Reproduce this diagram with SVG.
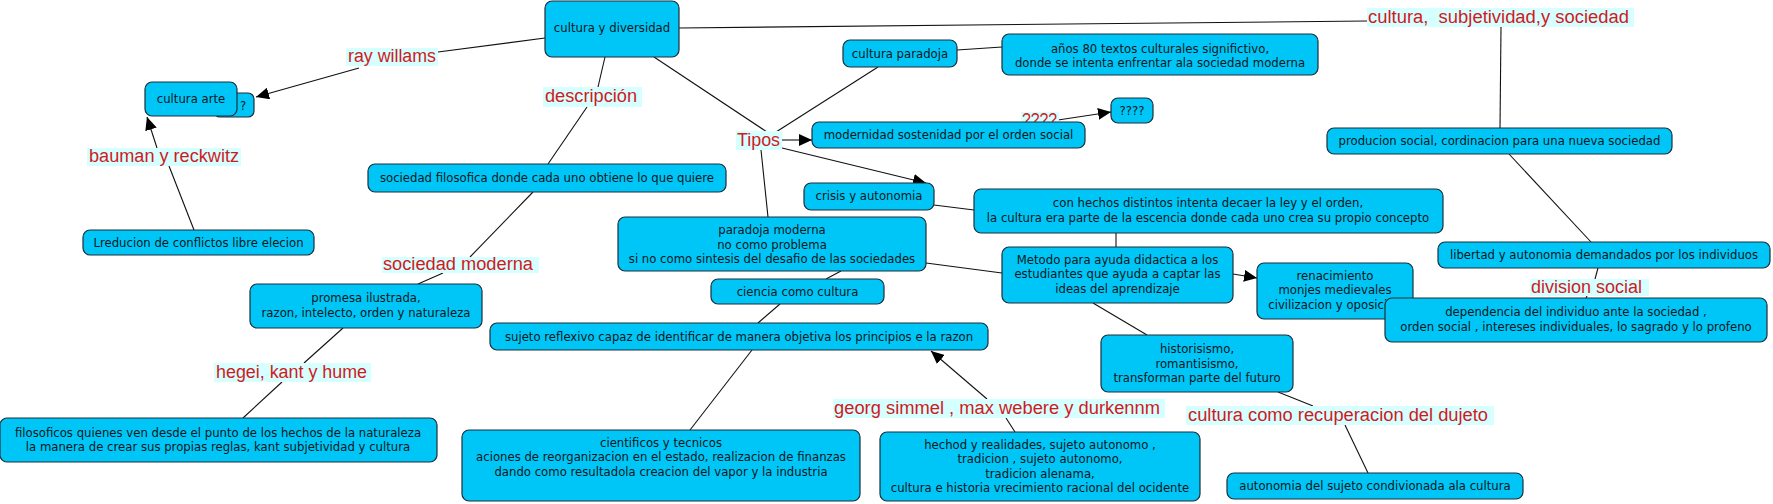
<svg xmlns="http://www.w3.org/2000/svg" width="1773" height="504" viewBox="0 0 1773 504">
<style>
.n rect{fill:#00c6f8;stroke:#1b2f3a;stroke-width:1.2}
.n text{font-family:"DejaVu Sans",Verdana,sans-serif;font-size:11.7px;fill:#0a1820;text-anchor:middle}
.l rect{fill:#d6ffff;stroke:none}
.l text{font-family:"Liberation Sans",Arial,sans-serif;font-size:18px;fill:#d01a1e}
#edges line{stroke:#111;stroke-width:1.1;fill:none}
#edges line.a{marker-end:url(#arr)}
</style>
<defs>
<marker id="arr" markerUnits="userSpaceOnUse" markerWidth="14" markerHeight="12" refX="13" refY="6" orient="auto">
<path d="M0,0 L13,6 L0,12 z" fill="#000"/>
</marker>
</defs>
<rect width="1773" height="504" fill="#fff"/>
<g id="edges">
<line x1="545" y1="38" x2="438" y2="52"/>
<line class="a" x1="359" y1="68" x2="256" y2="97"/>
<line x1="605" y1="57" x2="598" y2="87"/>
<line x1="587" y1="107" x2="548" y2="164"/>
<line x1="194" y1="230" x2="169" y2="166"/>
<line class="a" x1="157" y1="148" x2="147" y2="117"/>
<line x1="533" y1="192" x2="470" y2="257"/>
<line x1="443" y1="273" x2="418" y2="284"/>
<line x1="343" y1="328" x2="304" y2="363"/>
<line x1="282" y1="382" x2="243" y2="418"/>
<line x1="679" y1="28" x2="1367" y2="21"/>
<line x1="1501" y1="27" x2="1500" y2="128"/>
<line x1="1509" y1="154" x2="1591" y2="242"/>
<line x1="1598" y1="268" x2="1595" y2="279"/>
<line x1="1587" y1="296" x2="1586" y2="298"/>
<line x1="654" y1="57" x2="767" y2="132"/>
<line x1="776" y1="132" x2="878" y2="67"/>
<line x1="957" y1="50" x2="1002" y2="47"/>
<line class="a" x1="782" y1="140" x2="812" y2="140"/>
<line class="a" x1="1058" y1="120" x2="1111" y2="112"/>
<line class="a" x1="782" y1="148" x2="926" y2="183"/>
<line x1="761" y1="150" x2="768" y2="217"/>
<line x1="934" y1="205" x2="974" y2="210"/>
<line x1="926" y1="263" x2="1002" y2="273"/>
<line x1="1116" y1="233" x2="1116" y2="247"/>
<line class="a" x1="1233" y1="274" x2="1257" y2="278"/>
<line x1="1093" y1="303" x2="1147" y2="335"/>
<line x1="1278" y1="392" x2="1313" y2="406"/>
<line x1="1345" y1="425" x2="1368" y2="473"/>
<line x1="841" y1="271" x2="826" y2="279"/>
<line x1="780" y1="304" x2="758" y2="323"/>
<line x1="752" y1="350" x2="690" y2="430"/>
<line x1="1015" y1="432" x2="1006" y2="418"/>
<line class="a" x1="987" y1="399" x2="931" y2="351"/>
</g>
<g id="lbl-raywillams" class="l"><rect x="346" y="48" width="92" height="18"/><text x="348" y="62" textLength="88" lengthAdjust="spacingAndGlyphs">ray willams</text></g>
<g id="lbl-descripcion" class="l"><rect x="543" y="87" width="99" height="20"/><text x="545" y="102" textLength="92" lengthAdjust="spacingAndGlyphs">descripción</text></g>
<g id="lbl-bauman" class="l"><rect x="87" y="148" width="154" height="18"/><text x="89" y="162" textLength="150" lengthAdjust="spacingAndGlyphs">bauman y reckwitz</text></g>
<g id="lbl-tipos" class="l"><rect x="736" y="131" width="46" height="19"/><text x="737" y="146" textLength="43" lengthAdjust="spacingAndGlyphs">Tipos</text></g>
<g id="lbl-q" class="l"><rect x="1021" y="112" width="38" height="16"/><text x="1022" y="126" textLength="35" lengthAdjust="spacingAndGlyphs">????</text></g>
<g id="lbl-cultsubj" class="l"><rect x="1367" y="8" width="267" height="19"/><text x="1368" y="23" textLength="261" lengthAdjust="spacingAndGlyphs" xml:space="preserve">cultura,  subjetividad,y sociedad</text></g>
<g id="lbl-socmod" class="l"><rect x="382" y="257" width="157" height="16"/><text x="383" y="270" textLength="150" lengthAdjust="spacingAndGlyphs">sociedad moderna</text></g>
<g id="lbl-hegei" class="l"><rect x="214" y="363" width="157" height="19"/><text x="216" y="378" textLength="151" lengthAdjust="spacingAndGlyphs">hegei, kant y hume</text></g>
<g id="lbl-division" class="l"><rect x="1530" y="279" width="119" height="17"/><text x="1531" y="293" textLength="111" lengthAdjust="spacingAndGlyphs">division social</text></g>
<g id="lbl-georg" class="l"><rect x="833" y="399" width="332" height="19"/><text x="834" y="414" textLength="326" lengthAdjust="spacingAndGlyphs">georg simmel , max webere y durkennm</text></g>
<g id="lbl-cultcomo" class="l"><rect x="1186" y="406" width="308" height="19"/><text x="1188" y="421" textLength="300" lengthAdjust="spacingAndGlyphs">cultura como recuperacion del dujeto</text></g>
<g id="n-cyd" class="n"><rect x="545" y="1" width="134" height="56" rx="7"/><text x="612" y="32">cultura y diversidad</text></g>
<g id="n-q1" class="n"><rect x="214" y="93" width="40" height="24" rx="6"/><text x="243" y="110">?</text></g>
<g id="n-arte" class="n"><rect x="145" y="82" width="92" height="34" rx="7"/><text x="191" y="103">cultura arte</text></g>
<g id="n-lreducion" class="n"><rect x="83" y="230" width="231" height="25" rx="7"/><text x="198.5" y="247">Lreducion de conflictos libre elecion</text></g>
<g id="n-socfil" class="n"><rect x="368" y="164" width="358" height="28" rx="7"/><text x="547" y="182">sociedad filosofica donde cada uno obtiene lo que quiere</text></g>
<g id="n-promesa" class="n"><rect x="250" y="284" width="232" height="44" rx="7"/><text x="366" y="302">promesa ilustrada,</text><text x="366" y="317">razon, intelecto, orden y naturaleza</text></g>
<g id="n-filosoficos" class="n"><rect x="0" y="418" width="437" height="44" rx="7"/><text x="218" y="437">filosoficos quienes ven desde el punto de los hechos de la naturaleza</text><text x="218" y="451">la manera de crear sus propias reglas, kant subjetividad y cultura</text></g>
<g id="n-paradoja" class="n"><rect x="618" y="217" width="308" height="54" rx="7"/><text x="772" y="234">paradoja moderna</text><text x="772" y="249">no como problema</text><text x="772" y="263">si no como sintesis del desafio de las sociedades</text></g>
<g id="n-ciencia" class="n"><rect x="711" y="279" width="173" height="25" rx="7"/><text x="797.5" y="296">ciencia como cultura</text></g>
<g id="n-sujeto" class="n"><rect x="490" y="323" width="498" height="27" rx="7"/><text x="739" y="341">sujeto reflexivo capaz de identificar de manera objetiva los principios e la razon</text></g>
<g id="n-cientificos" class="n"><rect x="462" y="430" width="398" height="71" rx="7"/><text x="661" y="447">cientificos y tecnicos</text><text x="661" y="461">aciones de reorganizacion en el estado, realizacion de finanzas</text><text x="661" y="476">dando como resultadola creacion del vapor y la industria</text></g>
<g id="n-hechod" class="n"><rect x="880" y="432" width="320" height="69" rx="7"/><text x="1040" y="449">hechod y realidades, sujeto autonomo ,</text><text x="1040" y="463">tradicion , sujeto autonomo,</text><text x="1040" y="478">tradicion alenama,</text><text x="1040" y="492">cultura e historia vrecimiento racional del ocidente</text></g>
<g id="n-cparadoja" class="n"><rect x="843" y="40" width="114" height="27" rx="7"/><text x="900" y="58">cultura paradoja</text></g>
<g id="n-anos80" class="n"><rect x="1002" y="34" width="316" height="41" rx="7"/><text x="1160" y="53">años 80 textos culturales significtivo,</text><text x="1160" y="67">donde se intenta enfrentar ala sociedad moderna</text></g>
<g id="n-modernidad" class="n"><rect x="812" y="122" width="273" height="26" rx="7"/><text x="948.5" y="139">modernidad sostenidad por el orden social</text></g>
<g id="n-q4" class="n"><rect x="1111" y="98" width="42" height="25" rx="7"/><text x="1132" y="115">????</text></g>
<g id="n-crisis" class="n"><rect x="804" y="183" width="130" height="27" rx="7"/><text x="869" y="200">crisis y autonomia</text></g>
<g id="n-conhechos" class="n"><rect x="974" y="189" width="469" height="44" rx="7"/><text x="1208" y="207">con hechos distintos intenta decaer la ley y el orden,</text><text x="1208" y="222">la cultura era parte de la escencia donde cada uno crea su propio concepto</text></g>
<g id="n-metodo" class="n"><rect x="1002" y="247" width="231" height="56" rx="7"/><text x="1117.5" y="264">Metodo para ayuda didactica a los</text><text x="1117.5" y="278">estudiantes que ayuda a captar las</text><text x="1117.5" y="293">ideas del aprendizaje</text></g>
<g id="n-renacimiento" class="n"><rect x="1257" y="263" width="156" height="56" rx="7"/><text x="1335" y="280">renacimiento</text><text x="1335" y="294">monjes medievales</text><text x="1335" y="309">civilizacion y oposicion</text></g>
<g id="n-historisismo" class="n"><rect x="1101" y="335" width="192" height="57" rx="7"/><text x="1197" y="353">historisismo,</text><text x="1197" y="368">romantisismo,</text><text x="1197" y="382">transforman parte del futuro</text></g>
<g id="n-autonomia" class="n"><rect x="1227" y="473" width="296" height="26" rx="7"/><text x="1375" y="490">autonomia del sujeto condivionada ala cultura</text></g>
<g id="n-producion" class="n"><rect x="1327" y="128" width="345" height="26" rx="7"/><text x="1499.5" y="145">producion social, cordinacion para una nueva sociedad</text></g>
<g id="n-libertad" class="n"><rect x="1438" y="242" width="332" height="26" rx="7"/><text x="1604" y="259">libertad y autonomia demandados por los individuos</text></g>
<g id="n-dependencia" class="n"><rect x="1385" y="298" width="382" height="44" rx="7"/><text x="1576" y="316">dependencia del individuo ante la sociedad ,</text><text x="1576" y="331">orden social , intereses individuales, lo sagrado y lo profeno</text></g>
</svg>
